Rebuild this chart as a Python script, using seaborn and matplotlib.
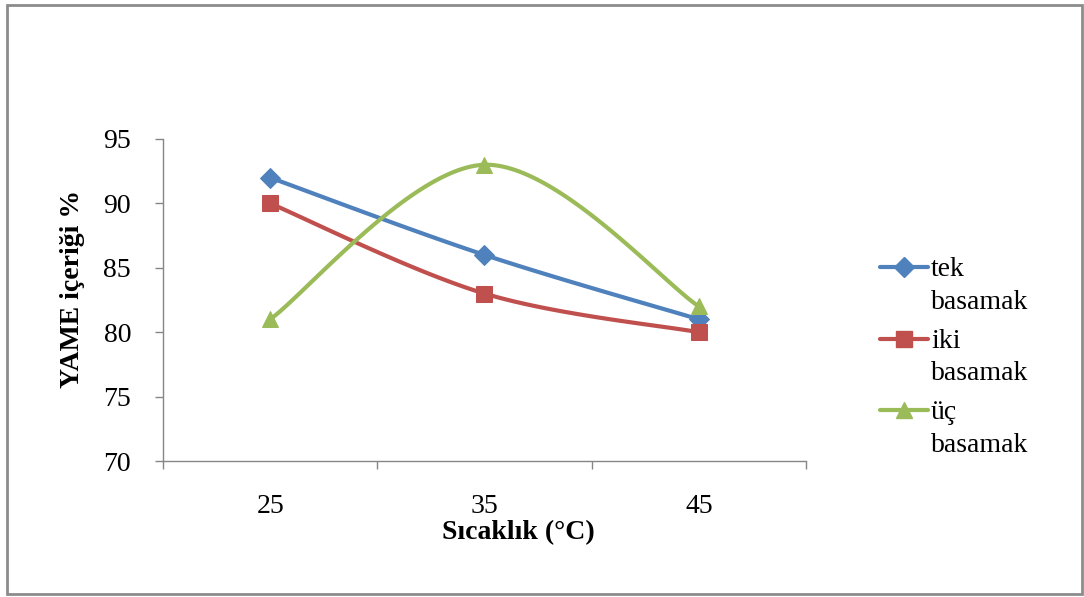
import numpy as np
import pandas as pd
import matplotlib
matplotlib.use("Agg")
import matplotlib.pyplot as plt
import seaborn as sns
from matplotlib.lines import Line2D
from matplotlib.patches import Rectangle

# ---- data ----
categories = ["25", "35", "45"]
tek_basamak = [92, 86, 81]
iki_basamak = [90, 83, 80]
uc_basamak = [81, 93, 82]
series_names = ["tek\nbasamak", "iki\nbasamak", "üç\nbasamak"]
y_ticks = [70, 75, 80, 85, 90, 95]

colors = ["#4F81BD", "#C0504D", "#9BBB59"]
markers = ["D", "s", "^"]
msizes = [10, 11, 12]

sns.set_theme(style="white")
plt.rcParams["font.family"] = ["Liberation Serif", "DejaVu Serif"]
plt.rcParams["text.color"] = "black"
plt.rcParams["axes.labelcolor"] = "black"


def smooth(xs, ys, n=60):
    """Excel-like Catmull-Rom Bezier smoothing."""
    P = np.column_stack([xs, ys]).astype(float)
    out = []
    for i in range(len(P) - 1):
        p0 = P[i - 1] if i > 0 else P[i]
        p1, p2 = P[i], P[i + 1]
        p3 = P[i + 2] if i + 2 < len(P) else P[i + 1]
        c1 = p1 + (p2 - p0) / 6.0
        c2 = p2 - (p3 - p1) / 6.0
        t = np.linspace(0, 1, n)[:, None]
        seg = ((1 - t) ** 3) * p1 + 3 * ((1 - t) ** 2) * t * c1 + 3 * (1 - t) * t ** 2 * c2 + t ** 3 * p2
        out.append(seg if i == 0 else seg[1:])
    return np.vstack(out)


fig = plt.figure(figsize=(10.84, 5.97), dpi=100)
ax = fig.add_axes([163 / 1084, 1 - 461 / 597, (806 - 163) / 1084, (461 - 139) / 597])

xpos = np.arange(len(categories))
all_series = [tek_basamak, iki_basamak, uc_basamak]
for vals, c, m, ms in zip(all_series, colors, markers, msizes):
    curve = smooth(xpos, vals)
    df = pd.DataFrame({"x": curve[:, 0], "y": curve[:, 1]})
    sns.lineplot(data=df, x="x", y="y", sort=False, ax=ax, color=c, linewidth=3.0,
                 estimator=None, zorder=2)
    pts = pd.DataFrame({"x": xpos, "y": vals})
    sns.lineplot(data=pts, x="x", y="y", ax=ax, color=c, linestyle="none", marker=m,
                 markersize=ms, markeredgecolor=c, estimator=None, zorder=3)

ax.set_xlim(-0.5, len(categories) - 0.5)
ax.set_ylim(70, 95)
ax.set_yticks(y_ticks)
ax.set_yticklabels([str(v) for v in y_ticks], fontsize=20)
ax.set_xticks(xpos)
ax.set_xticklabels(categories, fontsize=20)
ax.tick_params(axis="x", length=0, pad=24, labelcolor="black")
ax.set_xticks(np.arange(len(categories) + 1) - 0.5, minor=True)
ax.tick_params(axis="x", which="minor", length=6, width=1, color="#868686", direction="out", bottom=True)
ax.tick_params(axis="y", length=6, width=1, color="#868686", direction="out", left=True, pad=17,
               labelcolor="black")

for s in ["top", "right"]:
    ax.spines[s].set_visible(False)
for s in ["left", "bottom"]:
    ax.spines[s].set_color("#868686")
    ax.spines[s].set_linewidth(1)

ax.set_xlabel("Sıcaklık (°C)", fontsize=20, fontweight="bold")
ax.xaxis.set_label_coords(0.552, -0.185)
ax.set_ylabel("YAME içeriği %", fontsize=20, fontweight="bold")
ax.yaxis.set_label_coords(-0.122, 0.535)

# legend drawn manually (handle aligned with first line of label)
leg_y0 = 1 - 267 / 597
leg_dy = 71.5 / 597
for i, (name, c, m, ms) in enumerate(zip(series_names, colors, markers, msizes)):
    y = leg_y0 - i * leg_dy
    fig.add_artist(Line2D([880 / 1084, 928 / 1084], [y, y], color=c, linewidth=3.0,
                          transform=fig.transFigure))
    fig.add_artist(Line2D([904 / 1084], [y], color=c, marker=m, markersize=ms,
                          markeredgecolor=c, transform=fig.transFigure))
    fig.text(931 / 1084, y + 10 / 597, name, fontsize=20, va="top", ha="left",
             linespacing=1.4)

# outer frame
fig.add_artist(Rectangle((7 / 1084, 3 / 597), (1082 - 7) / 1084, (596 - 3 - 4) / 597,
                         transform=fig.transFigure, fill=False, edgecolor="#8c8c8c",
                         linewidth=2))

fig.savefig("out.png", dpi=100)
